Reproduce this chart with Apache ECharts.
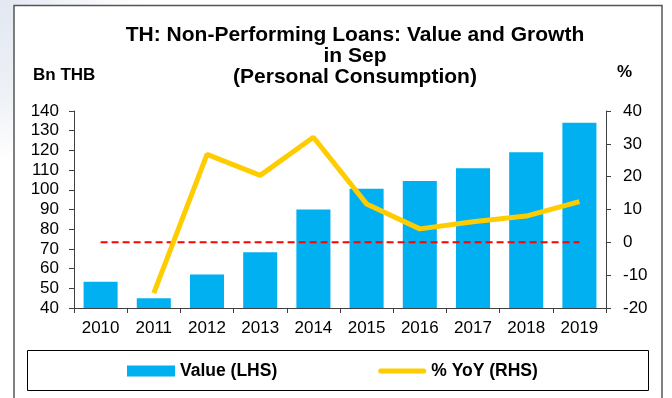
<!DOCTYPE html>
<html>
<head>
<meta charset="utf-8">
<script src="https://cdn.jsdelivr.net/npm/echarts@6/dist/echarts.min.js"></script>
<style>
  html, body { margin: 0; padding: 0; background: #fff; }
  #chart { width: 672px; height: 398px; }
</style>
</head>
<body>
<div id="chart"></div>
<script>
// Years on the category axis
const years = ['2010', '2011', '2012', '2013', '2014', '2015', '2016', '2017', '2018', '2019'];
// NPL value, Bn THB (left axis)
const nplValue = [53.3, 45, 57, 68.3, 90, 100.5, 104.5, 111, 119, 134];
// Year-on-year growth, % (right axis)
const nplYoY = [null, -15.5, 26.8, 20.4, 32.0, 11.7, 4.1, 6.3, 8.0, 12.4];
// Zero reference for the growth axis
const zeroLine = [0, 0, 0, 0, 0, 0, 0, 0, 0, 0];

const FONT = '"Liberation Sans", Arial, sans-serif';

const chart = echarts.init(document.getElementById('chart'), null, { renderer: 'canvas' });

chart.setOption({
  animation: false,
  backgroundColor: '#ffffff',
  title: {
    text: 'TH: Non-Performing Loans: Value and Growth\nin Sep\n(Personal Consumption)',
    left: 350,
    top: 20,
    textAlign: 'center',
    textStyle: { fontFamily: FONT, fontSize: 21, fontWeight: 'bold', color: '#000', lineHeight: 21 }
  },
  graphic: [
    // pale page tint outside the frame, top-left corner
    {
      type: 'rect', shape: { x: 0, y: 0, width: 14, height: 160 }, silent: true, z: -2,
      style: { fill: new echarts.graphic.LinearGradient(0, 0, 0, 1, [
        { offset: 0, color: '#E3E8F1' }, { offset: 0.6, color: '#EEF1F6' }, { offset: 1, color: '#ffffff' }]) }
    },
    {
      type: 'rect', shape: { x: 0, y: 0, width: 140, height: 5 }, silent: true, z: -2,
      style: { fill: new echarts.graphic.LinearGradient(0, 0, 1, 0, [
        { offset: 0, color: '#E3E8F1' }, { offset: 1, color: '#ffffff' }]) }
    },
    { type: 'rect', shape: { x: 14, y: 5.5, width: 648, height: 420 }, style: { fill: 'none', stroke: '#555', lineWidth: 1.5 }, z: -1 },
    { type: 'rect', shape: { x: 27.5, y: 350.5, width: 621, height: 40 }, style: { fill: 'none', stroke: '#000', lineWidth: 1 } },
    { type: 'text', left: 33, top: 67, style: { text: 'Bn THB', fontFamily: FONT, fontSize: 17, fontWeight: 'bold', fill: '#000' } },
    { type: 'text', left: 617, top: 64, style: { text: '%', fontFamily: FONT, fontSize: 17, fontWeight: 'bold', fill: '#000' } }
  ],
  legend: {
    left: 127,
    top: 362,
    padding: 0,
    itemWidth: 48,
    itemHeight: 11,
    itemGap: 101,
    data: [
      { name: 'Value (LHS)', icon: 'rect' },
      { name: '% YoY (RHS)', icon: 'path://M2.5,0 L45.5,0 A2.5,2.5 0 0 1 45.5,5 L2.5,5 A2.5,2.5 0 0 1 2.5,0 Z' }
    ],
    textStyle: { fontFamily: FONT, fontSize: 17.5, fontWeight: 'bold', color: '#000' }
  },
  grid: { left: 74, right: 66, top: 111, bottom: 90 },
  xAxis: {
    type: 'category',
    data: years,
    axisLine: { onZero: false, lineStyle: { color: '#404040', width: 1 } },
    axisTick: { show: true, length: 5, lineStyle: { color: '#404040' } },
    axisLabel: { fontFamily: FONT, fontSize: 17, color: '#000', margin: 12 }
  },
  yAxis: [
    {
      type: 'value', min: 40, max: 140, interval: 10,
      splitLine: { show: false },
      axisLine: { show: true, lineStyle: { color: '#404040' } },
      axisTick: { show: true, length: 5, lineStyle: { color: '#404040' } },
      axisLabel: { fontFamily: FONT, fontSize: 17, color: '#000', margin: 15 }
    },
    {
      type: 'value', min: -20, max: 40, interval: 10,
      position: 'right',
      splitLine: { show: false },
      axisLine: { show: true, lineStyle: { color: '#404040' } },
      axisTick: { show: true, length: 5, lineStyle: { color: '#404040' } },
      axisLabel: { fontFamily: FONT, fontSize: 17, color: '#000', margin: 17 }
    }
  ],
  series: [
    {
      name: 'Value (LHS)',
      type: 'bar',
      data: nplValue,
      yAxisIndex: 0,
      barCategoryGap: '36%',
      itemStyle: { color: '#00B0F0' }
    },
    {
      name: 'zero',
      type: 'line',
      data: zeroLine,
      yAxisIndex: 1,
      symbol: 'none',
      lineStyle: { color: '#FF0000', width: 2, type: [7, 4] },
      z: 3
    },
    {
      name: '% YoY (RHS)',
      type: 'line',
      data: nplYoY,
      yAxisIndex: 1,
      symbol: 'none',
      lineStyle: { color: '#FFCC00', width: 5 },
      itemStyle: { color: '#FFCC00' },
      z: 4
    }
  ]
});
</script>
</body>
</html>
